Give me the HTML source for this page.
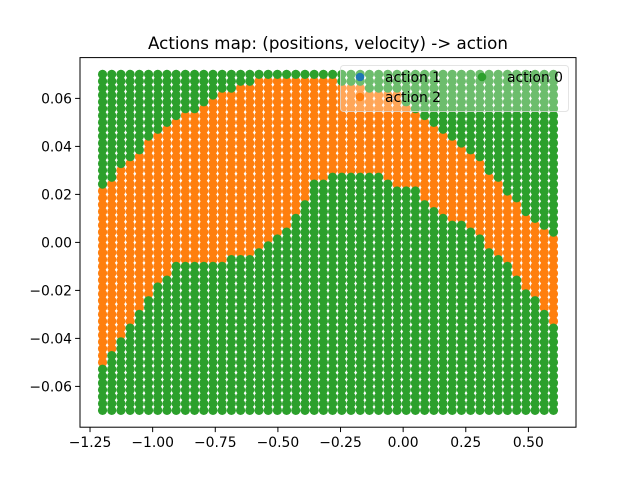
<!DOCTYPE html>
<html><head><meta charset="utf-8"><style>
body{margin:0;background:#fff;}
svg text{font-family:"DejaVu Sans","Liberation Sans",sans-serif;}
</style></head><body>
<svg id="chart" width="640" height="480" xmlns="http://www.w3.org/2000/svg">
<rect width="640" height="480" fill="#fff"/>
<text x="328" y="49" text-anchor="middle" font-size="16.7px">Actions map: (positions, velocity) -&gt; action</text>
<g id="dots"></g>
<rect x="80" y="57.6" width="496" height="369.6" fill="none" stroke="#000" stroke-width="1"/>
<g id="xticks"></g><g id="yticks"></g>
<g>
<rect x="340.5" y="65.5" width="228" height="46" rx="3" fill="#fff" fill-opacity="0.31" stroke="#ddd" stroke-opacity="0.8"/>
<circle cx="360" cy="77" r="4.3" fill="#1f77b4"/>
<text x="385" y="82" font-size="13.9px">action 1</text>
<circle cx="360" cy="97" r="4.3" fill="#ff7f0e"/>
<text x="385" y="102" font-size="13.9px">action 2</text>
<circle cx="482" cy="77" r="4.3" fill="#2ca02c"/>
<text x="507" y="82" font-size="13.9px">action 0</text>
</g>
</svg>
<script>
const NS="http://www.w3.org/2000/svg";
const nCols=50, nRows=50;
const posMin=-1.2, posMax=0.6, velMin=-0.07, velMax=0.07;
// per column: highest velocity of bottom "action 0" region
const greenBelowMax=[-0.0529,-0.0471,-0.0414,-0.0357,-0.03,-0.0243,-0.0186,-0.0157,-0.01,-0.01,
-0.01,-0.01,-0.01,-0.01,-0.0071,-0.0071,-0.0071,-0.0043,-0.0014,0.0014,
0.0043,0.01,0.0157,0.0243,0.0243,0.0271,0.0271,0.0271,0.0271,0.0271,
0.0271,0.0243,0.0214,0.0214,0.0214,0.0157,0.0129,0.01,0.0071,0.0071,
0.0043,0.0014,-0.0043,-0.0071,-0.01,-0.0157,-0.0214,-0.0243,-0.03,-0.0357];
// per column: lowest velocity of top "action 0" region
const greenAboveMin=[0.0243,0.0271,0.0329,0.0357,0.0386,0.0443,0.0471,0.05,0.0529,0.0557,
0.0557,0.0586,0.0614,0.0643,0.0643,0.0671,0.0671,0.07,0.07,0.07,
0.07,0.07,0.07,0.07,0.07,0.07,0.0671,0.0671,0.0671,0.0643,
0.0643,0.0643,0.0643,0.0586,0.0557,0.0529,0.05,0.0471,0.0443,0.0414,
0.0386,0.0357,0.03,0.0271,0.0214,0.0186,0.0129,0.01,0.0071,0.0043];
const xTicks=[-1.25,-1.0,-0.75,-0.5,-0.25,0.0,0.25,0.5];
const xTickLabels=["\u22121.25","\u22121.00","\u22120.75","\u22120.50","\u22120.25","0.00","0.25","0.50"];
const yTicks=[-0.06,-0.04,-0.02,0.0,0.02,0.04,0.06];
const yTickLabels=["\u22120.06","\u22120.04","\u22120.02","0.00","0.02","0.04","0.06"];

const L=80,R=576,T=57.6,B=427.2;
const xm=(posMax-posMin)*0.05, ym=(velMax-velMin)*0.05;
const X=v=>L+(v-(posMin-xm))/((posMax+xm)-(posMin-xm))*(R-L);
const Y=v=>B-(v-(velMin-ym))/((velMax+ym)-(velMin-ym))*(B-T);

const dots=document.getElementById('dots');
const orangeG=document.createElementNS(NS,'g');


const greenG=document.createElementNS(NS,'g');


dots.appendChild(orangeG);dots.appendChild(greenG);
for(let c=0;c<nCols;c++){
  const p=posMin+(posMax-posMin)*c/(nCols-1);
  for(let r=0;r<nRows;r++){
    const v=velMin+(velMax-velMin)*r/(nRows-1);
    const green = v<=greenBelowMax[c]+0.0005 || v>=greenAboveMin[c]-0.0005;
    const ci=document.createElementNS(NS,'circle');
    ci.setAttribute('cx',X(p).toFixed(2));
    ci.setAttribute('cy',Y(v).toFixed(2));
    ci.setAttribute('r','4.6');
    ci.setAttribute('fill',green?'#2ca02c':'#ff7f0e');
    
    
    (green?greenG:orangeG).appendChild(ci);
  }
}
const xg=document.getElementById('xticks');
xTicks.forEach((t,i)=>{
  const x=X(t);
  const l=document.createElementNS(NS,'line');
  l.setAttribute('x1',x);l.setAttribute('x2',x);l.setAttribute('y1',B);l.setAttribute('y2',B+4.9);
  l.setAttribute('stroke','#000');
  
  
  xg.appendChild(l);
  const tx=document.createElementNS(NS,'text');
  tx.setAttribute('x',x);tx.setAttribute('y',B+20);tx.setAttribute('text-anchor','middle');tx.setAttribute('font-size','13.9px');
  tx.textContent=xTickLabels[i];
  
  
  xg.appendChild(tx);
});
const yg=document.getElementById('yticks');
yTicks.forEach((t,i)=>{
  const y=Y(t);
  const l=document.createElementNS(NS,'line');
  l.setAttribute('x1',L-4.9);l.setAttribute('x2',L);l.setAttribute('y1',y);l.setAttribute('y2',y);
  l.setAttribute('stroke','#000');
  
  
  yg.appendChild(l);
  const tx=document.createElementNS(NS,'text');
  tx.setAttribute('x',L-8);tx.setAttribute('y',y+5);tx.setAttribute('text-anchor','end');tx.setAttribute('font-size','13.9px');
  tx.textContent=yTickLabels[i];
  
  
  yg.appendChild(tx);
});
</script>
</body></html>
